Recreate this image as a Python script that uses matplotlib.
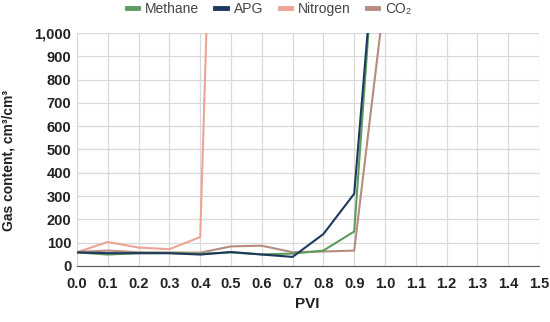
import matplotlib.pyplot as plt
from matplotlib.ticker import FuncFormatter

pvi = [0.0, 0.1, 0.2, 0.3, 0.4, 0.5, 0.6, 0.7, 0.8, 0.9, 1.0]
methane = [58, 49, 55, 55, 52, 58, 50, 53, 66, 148, 2000]
apg = [58, 55, 55, 55, 49, 60, 49, 39, 137, 310, 1900]
co2 = [60, 66, 59, 58, 57, 84, 87, 59, 62, 66, 1170]
pvi_n = [0.0, 0.1, 0.2, 0.3, 0.4, 0.5]
nitrogen = [59, 103, 79, 72, 124, 4500]

plt.rcParams['font.family'] = ['Liberation Sans', 'DejaVu Sans']

fig = plt.figure(figsize=(5.5, 3.22), dpi=100)
ax = fig.add_axes([0.14, 0.174, 0.84, 0.7235])

# colores de las series
c_met = '#5e9c5e'
c_apg = '#1d3a5e'
c_nit = '#eca494'
c_co2 = '#b58c7f'

ax.plot(pvi, methane, color=c_met, lw=1.5, label='Methane', zorder=3)
ax.plot(pvi, apg, color=c_apg, lw=1.5, label='APG', zorder=4)
ax.plot(pvi_n, nitrogen, color=c_nit, lw=1.5, label='Nitrogen', zorder=2)
ax.plot(pvi, co2, color=c_co2, lw=1.5, label='CO₂', zorder=2)

ax.set_xlim(0, 1.5)
ax.set_ylim(0, 1000)
ax.set_xticks([i / 10 for i in range(16)])
ax.set_yticks(range(0, 1001, 100))
ax.yaxis.set_major_formatter(FuncFormatter(lambda v, p: f'{int(v):,}'))
ax.tick_params(length=0, labelsize=10.5, colors='#222222')
ax.tick_params(axis='x', pad=8)
ax.tick_params(axis='y', pad=4)
for lab in ax.get_xticklabels() + ax.get_yticklabels():
    lab.set_fontweight('bold')

ax.grid(True, color='#d9d9d9', lw=0.9)
ax.set_axisbelow(True)
for s in ['top', 'right']:
    ax.spines[s].set_visible(False)
ax.spines['left'].set_color('#d9d9d9')
ax.spines['bottom'].set_color('#555555')

# etiquetas de ejes colocadas a mano
fig.text(307 / 550, 1 - 304 / 322, 'PVI', fontsize=11, fontweight='bold',
         color='#222222', ha='center', va='center')
fig.text(9 / 550, 1 - 160 / 322, 'Gas content, cm³/cm³', fontsize=10, fontweight='bold',
         color='#222222', rotation=90, ha='center', va='center')

leg = fig.legend(loc='center', bbox_to_anchor=(0.489, 1 - 9 / 322), ncol=4, frameon=False,
                 fontsize=10, handlelength=0.8, handletextpad=0.5, columnspacing=1.2)
for h in leg.get_lines():
    h.set_linewidth(3.5)
for t in leg.get_texts():
    t.set_color('#444444')

fig.savefig('out.png', dpi=100)
